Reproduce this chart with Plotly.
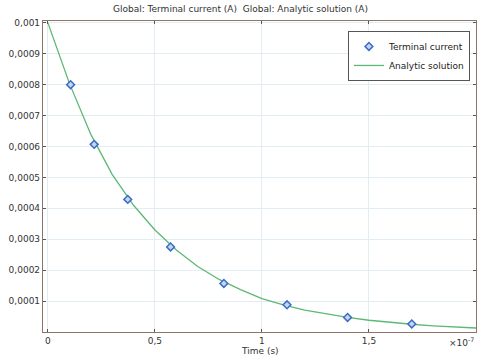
import plotly.graph_objects as go

# Time in units of 1e-7 s
marker_t = [0.106, 0.216, 0.373, 0.573, 0.822, 1.117, 1.40, 1.70]
marker_i = [0.00080, 0.000607, 0.000429, 0.000275, 0.000157, 0.000088, 0.000047, 0.000026]

line_t = [0.0, 0.1, 0.2, 0.3, 0.4, 0.5, 0.6, 0.7, 0.8, 0.9, 1.0,
          1.1, 1.2, 1.3, 1.4, 1.5, 1.6, 1.7, 1.8, 1.9, 2.0]
line_i = [0.001, 0.000805, 0.000640, 0.000510, 0.000410, 0.000330, 0.000265,
          0.000212, 0.000170, 0.000137, 0.000108, 0.000088, 0.000071, 0.000058,
          0.000047, 0.000038, 0.000031, 0.000025, 0.000020, 0.000016, 0.000013]

x_ticks = [0, 0.5, 1, 1.5]
x_ticktext = ["0", "0,5", "1", "1,5"]
y_ticks = [0.0001, 0.0002, 0.0003, 0.0004, 0.0005, 0.0006, 0.0007, 0.0008, 0.0009, 0.001]
y_ticktext = ["0,0001", "0,0002", "0,0003", "0,0004", "0,0005", "0,0006",
              "0,0007", "0,0008", "0,0009", "0,001"]

fig = go.Figure()
fig.add_trace(go.Scatter(
    x=line_t, y=line_i, mode="lines", name="Analytic solution",
    line=dict(color="#5cb874", width=1.3),
))
fig.add_trace(go.Scatter(
    x=marker_t, y=marker_i, mode="markers", name="Terminal current",
    marker=dict(symbol="diamond", size=6, color="#c4d6f2",
                line=dict(color="#3a6cc4", width=1.5)),
))

axis_color = "#8f7468"
fig.update_layout(
    width=481, height=355,
    margin=dict(l=43, r=5, t=21, b=23),
    paper_bgcolor="white", plot_bgcolor="white",
    font=dict(family="DejaVu Sans", size=9, color="#333333"),
    title=dict(text="Global: Terminal current (A)  Global: Analytic solution (A)",
               x=0.5, xref="container", xanchor="center", y=0.985, yanchor="top",
               font=dict(size=9, color="#333333")),
    showlegend=True,
    legend=dict(x=0.986, xanchor="right", y=0.968, yanchor="top",
                bgcolor="white", bordercolor="#555555", borderwidth=1,
                font=dict(size=9, color="#222222"),
                traceorder="reversed", tracegroupgap=0,
                itemwidth=30),
    xaxis=dict(range=[-0.023, 2.0], tickvals=x_ticks, ticktext=x_ticktext,
               showgrid=True, gridcolor="#e2ecf3", gridwidth=1,
               zeroline=False, showline=True, linecolor=axis_color, linewidth=1.2,
               mirror="ticks", ticks="inside", ticklen=3, tickcolor="#555555",
               automargin=False, tickfont=dict(size=9)),
    yaxis=dict(range=[0, 0.001006], tickvals=y_ticks, ticktext=y_ticktext,
               showgrid=True, gridcolor="#e2ecf3", gridwidth=1,
               zeroline=False, showline=True, linecolor=axis_color, linewidth=1.2,
               mirror="ticks", ticks="inside", ticklen=3, tickcolor="#555555",
               automargin=False, tickfont=dict(size=9)),
)
fig.add_annotation(text="×10<sup>-7</sup>", xref="paper", yref="paper",
                   x=1.0, y=-0.008, xanchor="right", yanchor="top",
                   showarrow=False, font=dict(size=9, color="#333333"))
fig.add_annotation(text="Time (s)", xref="paper", yref="paper",
                   x=0.5, y=-0.037, xanchor="center", yanchor="top",
                   showarrow=False, font=dict(size=9, color="#333333"))

fig.write_html("out.html", config={"displayModeBar": False},
               post_script="document.body.style.margin='0';document.body.style.overflow='hidden';")
